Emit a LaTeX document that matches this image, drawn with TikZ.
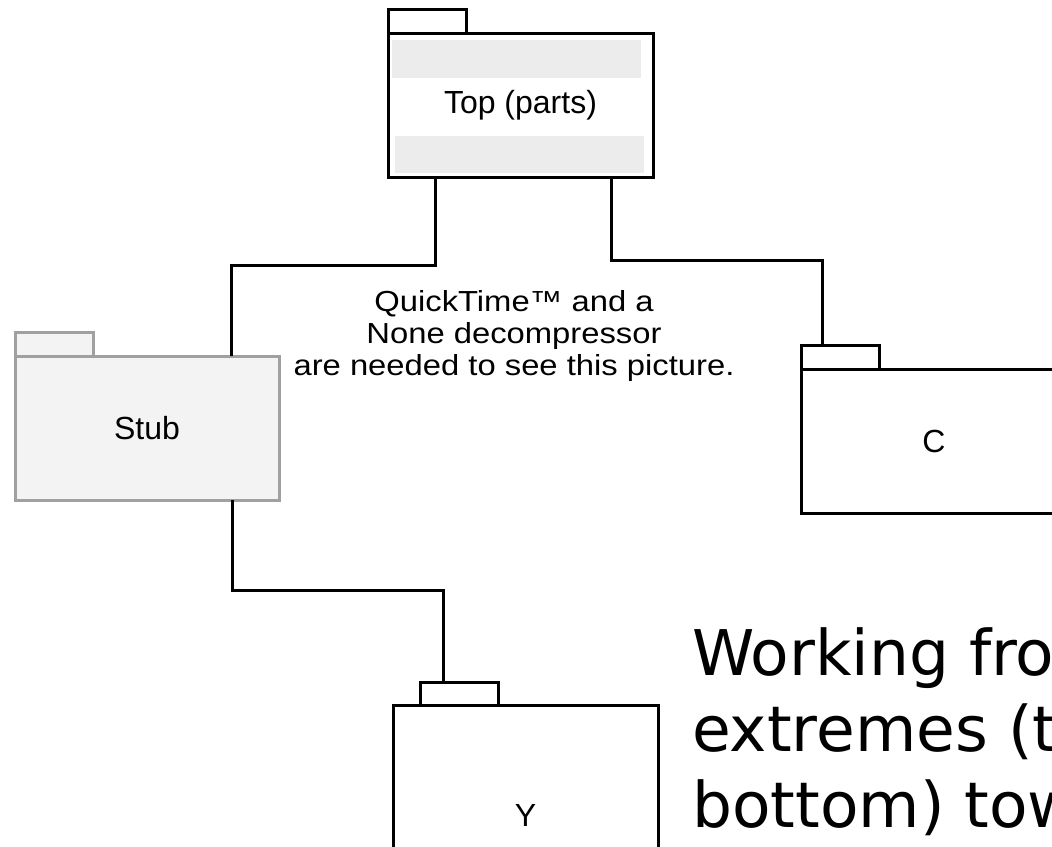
\documentclass[tikz,border=0pt]{standalone}
\usepackage{fontspec}
\setmainfont{Liberation Sans}
\newfontfamily\bigfont{DejaVu Sans}
\definecolor{barfill}{HTML}{ECECEC}
\definecolor{stubfill}{HTML}{F3F3F3}
\definecolor{stubline}{HTML}{A0A0A0}
\tikzset{
  pkgbox/.style={draw=black, line width=3pt, inner sep=0pt, outer sep=0pt, anchor=north west, font=\fontsize{32}{37}\selectfont},
  stubbox/.style={pkgbox, draw=stubline, fill=stubfill},
  conn/.style={draw=black, line width=3pt, line join=miter},
  bar/.style={fill=barfill, draw=none},
  qtline/.style={inner sep=0pt, anchor=base, xscale=1.13, font=\fontsize{29}{32}\selectfont},
  bigline/.style={inner sep=0pt, anchor=base west, font=\bigfont\fontsize{63}{76}\selectfont}
}
\begin{document}
\begin{tikzpicture}[x=1pt,y=-1pt]
\useasboundingbox (0,0) rectangle (1052,846);
\clip (0,0) rectangle (1052,846);
\fill[white] (0,0) rectangle (1052,846);

% Top (parts)
\fill[bar] (392,40) rectangle (641,78);
\fill[bar] (395,136) rectangle (644,173);
\node[pkgbox, minimum width=265pt, minimum height=144pt] (top) at (388,33) {Top (parts)};
\node[pkgbox, minimum width=78pt, minimum height=24pt] (toptab) at (388,9) {};

% Stub
\node[stubbox, minimum width=78pt, minimum height=24pt] (stubtab) at (15,332) {};
\node[stubbox, minimum width=264pt, minimum height=144pt] (stub) at (15,356) {Stub};

% C
\node[pkgbox, minimum width=78pt, minimum height=24pt] (ctab) at (801,345) {};
\node[pkgbox, minimum width=266pt, minimum height=144pt] (c) at (801,369) {C};

% Y
\node[pkgbox, minimum width=78pt, minimum height=23pt] (ytab) at (420,682) {};
\node[pkgbox, minimum width=265pt, minimum height=220pt] (y) at (393,705) {Y};

% connectors
\coordinate (j1) at (231,265);
\coordinate (j2) at (822,260);
\coordinate (j3) at (443,590);
\draw[conn] ([xshift=47pt]top.south west) |- (j1) -- (j1 |- stub.north);
\draw[conn] ([xshift=223pt]top.south west) |- (j2) -- (j2 |- ctab.north);
\draw[conn] ([xshift=217pt]stub.south west) |- (j3) -- (j3 |- ytab.north);

% QuickTime placeholder text
\node[qtline] (qt1) at (514,311) {QuickTime™ and a};
\node[qtline] (qt2) at (514,343) {None decompressor};
\node[qtline] (qt3) at (514,375) {are needed to see this picture.};

% big text
\node[bigline] (bt1) at (692,675) {Working from the};
\node[bigline] (bt2) at (692,751) {extremes (top and};
\node[bigline] (bt3) at (692,827) {bottom) towards};
\end{tikzpicture}
\end{document}
